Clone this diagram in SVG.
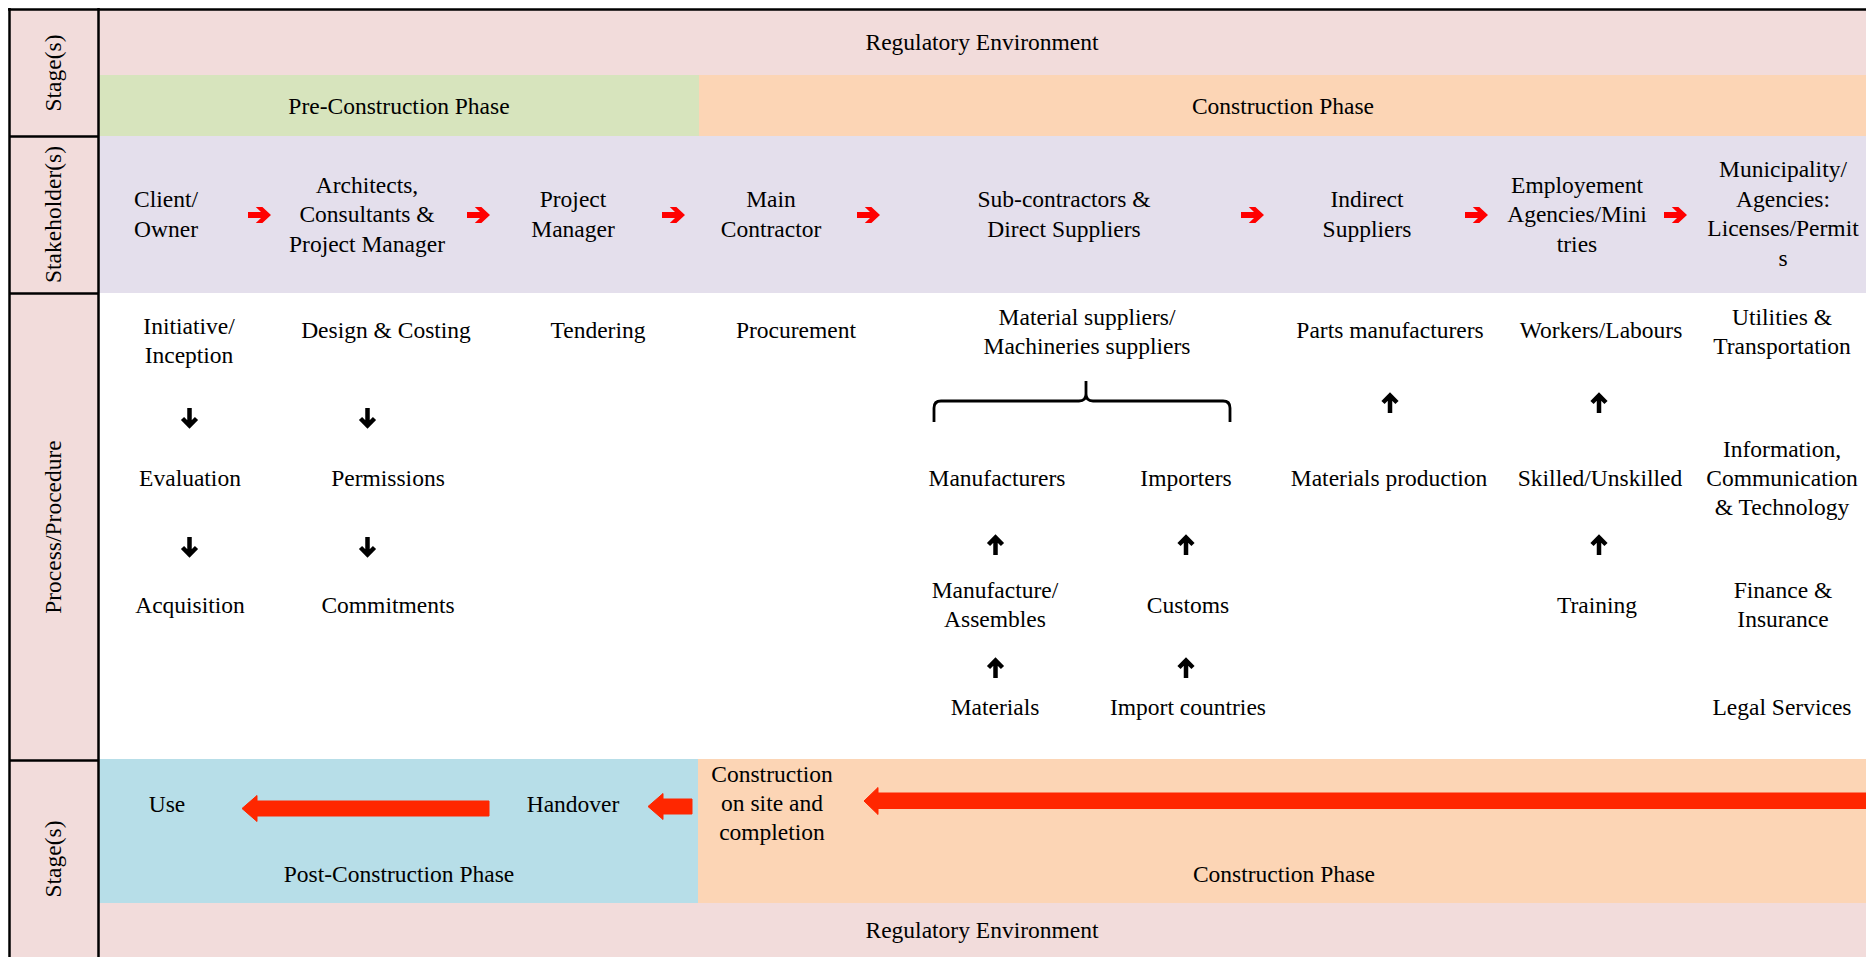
<svg xmlns="http://www.w3.org/2000/svg" width="1866" height="957" viewBox="0 0 1866 957">
  <style>
    text { font-family: "Liberation Serif", "Times New Roman", serif; font-size: 23.5px; fill: #000; text-anchor: middle; }
    .side { font-size: 23.5px; }
    .frame { stroke: #000; stroke-width: 2.5; fill: none; }
    .red-small { fill: #FF0000; }
    .black-arrow { fill: none; stroke: #000; stroke-width: 4.5; stroke-linejoin: miter; }
    .big-arrow { fill: #FF2700; stroke: #FF2700; stroke-width: 1; stroke-linejoin: round; }
    .brace { fill: none; stroke: #000; stroke-width: 2.8; }
  </style>
  <defs>
    <!-- small red flow arrow, starts at x=0, centred on y=0 -->
    <path id="flowArrow" class="red-small" d="M0 -2.9 H13 L7.8 -8 H14.4 L23 0 L14.4 8 H7.8 L13 2.9 H0 Z"/>
    <!-- black step arrow pointing down, top at y=0 -->
    <path id="downArrow" class="black-arrow" d="M0 0 V17 M-7 10.5 L0 17.5 L7 10.5"/>
    <!-- black step arrow pointing up, bottom at y=0 -->
    <path id="upArrow" class="black-arrow" d="M0 0 V-17 M-7 -10.5 L0 -17.5 L7 -10.5"/>
  </defs>

  <!-- background bands -->
  <g id="bands">
    <rect x="9" y="9" width="89" height="948" fill="#F2DCDB"/>
    <rect x="98" y="9" width="1768" height="66" fill="#F2DCDB"/>
    <rect x="98" y="75" width="601" height="61" fill="#D7E4BD"/>
    <rect x="699" y="75" width="1167" height="61" fill="#FCD5B5"/>
    <rect x="98" y="136" width="1768" height="157" fill="#E4DFEC"/>
    <rect x="98" y="293" width="1768" height="466" fill="#FFFFFF"/>
    <rect x="98" y="759" width="600" height="144" fill="#B7DEE8"/>
    <rect x="698" y="759" width="1168" height="144" fill="#FCD5B5"/>
    <rect x="98" y="903" width="1768" height="54" fill="#F2DCDB"/>
  </g>

  <!-- table frame -->
  <g id="frame" class="frame">
    <line x1="8" y1="9.5" x2="1866" y2="9.5"/>
    <line x1="9.5" y1="8" x2="9.5" y2="957"/>
    <line x1="98.5" y1="8" x2="98.5" y2="957"/>
    <line x1="9" y1="136.5" x2="98" y2="136.5"/>
    <line x1="9" y1="293.5" x2="98" y2="293.5"/>
    <line x1="9" y1="760.5" x2="98" y2="760.5"/>
  </g>

  <!-- row headers -->
  <g id="row-headers">
    <text class="side" transform="translate(61 73) rotate(-90)">Stage(s)</text>
    <text class="side" transform="translate(61 214.5) rotate(-90)">Stakeholder(s)</text>
    <text class="side" transform="translate(61 527) rotate(-90)">Process/Procedure</text>
    <text class="side" transform="translate(61 859) rotate(-90)">Stage(s)</text>
  </g>

  <!-- stage labels -->
  <g id="regulatory-top"><text x="982" y="50">Regulatory Environment</text></g>
  <g id="pre-construction"><text x="399" y="114">Pre-Construction Phase</text></g>
  <g id="construction-top"><text x="1283" y="114">Construction Phase</text></g>

  <!-- stakeholders -->
  <g id="client"><text x="166" y="207">Client/</text><text x="166" y="237">Owner</text></g>
  <g id="architects"><text x="367" y="193">Architects,</text><text x="367" y="222">Consultants &amp;</text><text x="367" y="252">Project Manager</text></g>
  <g id="project-manager"><text x="573" y="207">Project</text><text x="573" y="237">Manager</text></g>
  <g id="main-contractor"><text x="771" y="207">Main</text><text x="771" y="237">Contractor</text></g>
  <g id="sub-contractors"><text x="1064" y="207">Sub-contractors &amp;</text><text x="1064" y="237">Direct Suppliers</text></g>
  <g id="indirect-suppliers"><text x="1367" y="207">Indirect</text><text x="1367" y="237">Suppliers</text></g>
  <g id="employment-agencies"><text x="1577" y="193">Employement</text><text x="1577" y="222">Agencies/Mini</text><text x="1577" y="252">tries</text></g>
  <g id="municipality"><text x="1783" y="177">Municipality/</text><text x="1783" y="206.5">Agencies:</text><text x="1783" y="236">Licenses/Permit</text><text x="1783" y="265.5">s</text></g>

  <!-- process / procedure -->
  <g id="initiative"><text x="189" y="334">Initiative/</text><text x="189" y="363">Inception</text></g>
  <g id="design-costing"><text x="386" y="338">Design &amp; Costing</text></g>
  <g id="tendering"><text x="598" y="338">Tendering</text></g>
  <g id="procurement"><text x="796" y="338">Procurement</text></g>
  <g id="material-suppliers"><text x="1087" y="325">Material suppliers/</text><text x="1087" y="354">Machineries suppliers</text></g>
  <g id="parts-manufacturers"><text x="1390" y="338">Parts manufacturers</text></g>
  <g id="workers"><text x="1601" y="338">Workers/Labours</text></g>
  <g id="utilities"><text x="1782" y="325">Utilities &amp;</text><text x="1782" y="354">Transportation</text></g>

  <g id="evaluation"><text x="190" y="486">Evaluation</text></g>
  <g id="permissions"><text x="388" y="486">Permissions</text></g>
  <g id="manufacturers"><text x="997" y="486">Manufacturers</text></g>
  <g id="importers"><text x="1186" y="486">Importers</text></g>
  <g id="materials-production"><text x="1389" y="486">Materials production</text></g>
  <g id="skilled"><text x="1600" y="486">Skilled/Unskilled</text></g>
  <g id="ict"><text x="1782" y="457">Information,</text><text x="1782" y="486">Communication</text><text x="1782" y="515">&amp; Technology</text></g>

  <g id="acquisition"><text x="190" y="613">Acquisition</text></g>
  <g id="commitments"><text x="388" y="613">Commitments</text></g>
  <g id="manufacture-assembles"><text x="995" y="598">Manufacture/</text><text x="995" y="627">Assembles</text></g>
  <g id="customs"><text x="1188" y="613">Customs</text></g>
  <g id="training"><text x="1597" y="613">Training</text></g>
  <g id="finance"><text x="1783" y="598">Finance &amp;</text><text x="1783" y="627">Insurance</text></g>

  <g id="materials"><text x="995" y="715">Materials</text></g>
  <g id="import-countries"><text x="1188" y="715">Import countries</text></g>
  <g id="legal"><text x="1782" y="715">Legal Services</text></g>

  <!-- lower stage row -->
  <g id="use"><text x="167" y="812">Use</text></g>
  <g id="handover"><text x="573" y="812">Handover</text></g>
  <g id="construction-site"><text x="772" y="782">Construction</text><text x="772" y="811">on site and</text><text x="772" y="840">completion</text></g>
  <g id="post-construction"><text x="399" y="882">Post-Construction Phase</text></g>
  <g id="construction-bottom"><text x="1284" y="882">Construction Phase</text></g>
  <g id="regulatory-bottom"><text x="982" y="938">Regulatory Environment</text></g>

  <!-- connectors -->
  <g id="connectors">
    <!-- stakeholder chain -->
    <use href="#flowArrow" x="248" y="215"/>
    <use href="#flowArrow" x="467" y="215"/>
    <use href="#flowArrow" x="662" y="215"/>
    <use href="#flowArrow" x="857" y="215"/>
    <use href="#flowArrow" x="1241" y="215"/>
    <use href="#flowArrow" x="1465" y="215"/>
    <use href="#flowArrow" x="1664" y="215"/>

    <!-- pre-construction steps -->
    <use href="#downArrow" x="189.5" y="408"/>
    <use href="#downArrow" x="367.5" y="408"/>
    <use href="#downArrow" x="189.5" y="537"/>
    <use href="#downArrow" x="367.5" y="537"/>

    <!-- supply chain steps -->
    <path class="brace" d="M934 422 V408 Q934 401 941 401 H1079 Q1086 401 1086 394 V381 V394 Q1086 401 1093 401 H1223 Q1230 401 1230 408 V422"/>
    <use href="#upArrow" x="1390" y="413"/>
    <use href="#upArrow" x="995.5" y="555"/>
    <use href="#upArrow" x="1186" y="555"/>
    <use href="#upArrow" x="995.5" y="678"/>
    <use href="#upArrow" x="1186" y="678"/>
    <use href="#upArrow" x="1599" y="413"/>
    <use href="#upArrow" x="1599" y="555"/>

    <!-- lifecycle flow -->
    <polygon class="big-arrow" points="242,808.5 257,795.5 257,801 489,801 489,816 257,816 257,821.5"/>
    <polygon class="big-arrow" points="648,806.5 663,793.5 663,799 692,799 692,814 663,814 663,819.5"/>
    <polygon class="big-arrow" points="864,801 878,787.5 878,793 1867,793 1867,808.5 878,808.5 878,814.5"/>
  </g>
</svg>
